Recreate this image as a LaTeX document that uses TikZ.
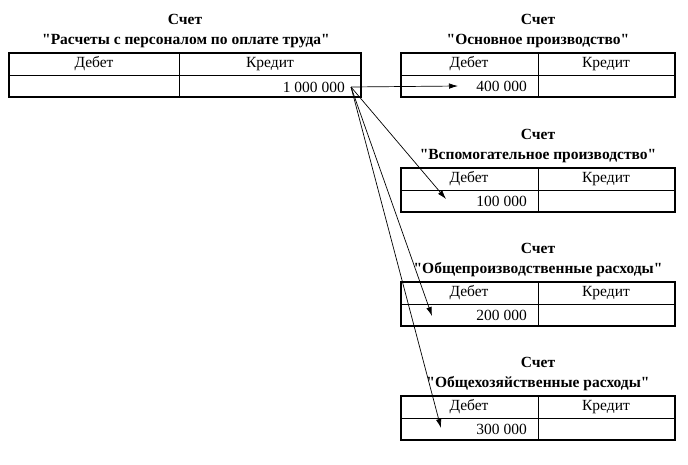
\documentclass[tikz,border=0pt]{standalone}
\usepackage{fontspec}
\setmainfont{Liberation Serif}[Ligatures=TeXOff]
\usetikzlibrary{arrows.meta}
\begin{document}
\begin{tikzpicture}[x=1pt,y=-1pt,
  frame/.style={line width=1.8pt},
  grid/.style={line width=0.8pt},
  ttl/.style={font=\fontsize{15.5}{17}\selectfont\bfseries, inner sep=0pt},
  cell/.style={font=\fontsize{15.5}{17}\selectfont, inner sep=0pt},
  val/.style={font=\fontsize{15.5}{17}\selectfont, inner sep=0pt, anchor=east},
  arr/.style={line width=0.7pt, -{Latex[length=9pt,width=5.5pt]}}]
\useasboundingbox (0,0) rectangle (688,464);
% left account
\node[ttl] (s0) at (185,19) {Счет};
\node[ttl] (t0) at (186,41) {"Расчеты с персоналом по оплате труда"};
\draw[grid] (9,75) -- (361,75) (179,53) -- (179,97);
\draw[frame] (9,53) rectangle (361,97);
\node[cell] (d0) at (94,64) {Дебет};
\node[cell] (k0) at (270,64) {Кредит};
\node[val] (v0) at (345,87) {1 000 000};
\coordinate (src) at (351,87);
% right accounts
\foreach \i/\top/\name/\amt in {1/53/Основное производство/400 000,
                                2/168/Вспомогательное производство/100 000,
                                3/282/Общепроизводственные расходы/200 000,
                                4/396/Общехозяйственные расходы/300 000}{
  \node[ttl] (s\i) at (538,\top-34) {Счет};
  \node[ttl] (t\i) at (538,\top-12) {"\name"};
  \draw[grid] (401,\top+22) -- (675,\top+22) (538,\top) -- (538,\top+44);
  \draw[frame] (401,\top) rectangle (675,\top+44);
  \node[cell] (d\i) at (469,\top+11) {Дебет};
  \node[cell] (k\i) at (606,\top+11) {Кредит};
  \node[val] (v\i) at (527,\top+33) {\amt};
}
\coordinate (e1) at (458,86);
\coordinate (e2) at (446,199);
\coordinate (e3) at (432,316);
\coordinate (e4) at (441,428);
\draw[arr] (src) -- (e1);
\draw[arr] (src) -- (e2);
\draw[arr] (src) -- (e3);
\draw[arr] (src) -- (e4);
\end{tikzpicture}
\end{document}
